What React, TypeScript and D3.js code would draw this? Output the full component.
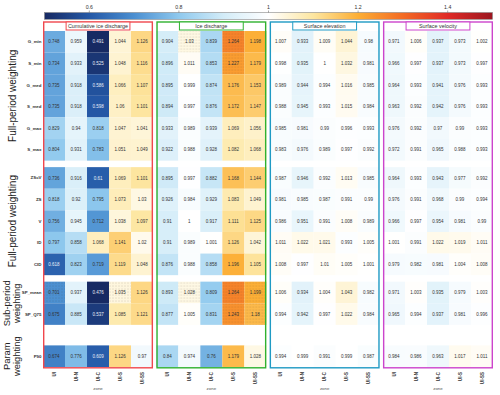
import React from 'react';
import * as d3 from 'd3';

const zones = ['UI', 'UI-N', 'UI-C', 'UI-S', 'UI-SS'];
const rowNames = ['G_min', 'S_min', 'G_med', 'S_med', 'G_max', 'S_max', 'ZScV', 'ZS', 'V', 'ID', 'CID', 'SP_mean', 'SP_Q75', 'P90'];
const rowGroup = [0, 0, 0, 0, 0, 0, 1, 1, 1, 1, 1, 2, 2, 3];
const groupLabels = [['Full-period weighting'], ['Full-period weighting'], ['Sub-period', 'weighting'], ['Param', 'weighting']];
const groupGap = [0, 0.3, 0.3, 0.95];
const panelTitles = ['Cumulative ice discharge', 'Ice discharge', 'Surface elevation', 'Surface velocity'];
const panelColors = ['#f0474d', '#2fb12f', '#1f9ac4', '#cc44cc'];
const cbTicks = [0.6, 0.8, 1, 1.2, 1.4];

const cumulativeIceDischarge = [
  [0.748, 0.959, 0.491, 1.044, 1.126],
  [0.734, 0.933, 0.525, 1.048, 1.116],
  [0.735, 0.918, 0.586, 1.066, 1.107],
  [0.735, 0.918, 0.598, 1.06, 1.101],
  [0.829, 0.94, 0.818, 1.047, 1.041],
  [0.804, 0.931, 0.783, 1.051, 1.049],
  [0.736, 0.916, 0.61, 1.069, 1.101],
  [0.818, 0.92, 0.795, 1.073, 1.03],
  [0.756, 0.945, 0.712, 1.038, 1.097],
  [0.797, 0.858, 1.068, 1.141, 1.02],
  [0.618, 0.823, 0.719, 1.119, 1.048],
  [0.701, 0.937, 0.476, 1.035, 1.126],
  [0.675, 0.885, 0.537, 1.085, 1.121],
  [0.674, 0.776, 0.609, 1.126, 0.97],
];
const iceDischarge = [
  [0.904, 1.03, 0.839, 1.264, 1.198],
  [0.896, 1.011, 0.853, 1.227, 1.179],
  [0.895, 0.999, 0.874, 1.176, 1.153],
  [0.894, 0.997, 0.876, 1.172, 1.147],
  [0.933, 0.989, 0.939, 1.069, 1.056],
  [0.922, 0.988, 0.928, 1.082, 1.068],
  [0.895, 0.997, 0.882, 1.168, 1.144],
  [0.926, 0.984, 0.929, 1.083, 1.049],
  [0.91, 1, 0.917, 1.111, 1.125],
  [0.91, 0.989, 1.001, 1.126, 1.042],
  [0.876, 0.988, 0.858, 1.196, 1.105],
  [0.893, 1.028, 0.809, 1.264, 1.199],
  [0.877, 1.005, 0.831, 1.243, 1.18],
  [0.84, 0.974, 0.76, 1.179, 1.028],
];
const surfaceElevation = [
  [1.007, 0.933, 1.009, 1.044, 0.98],
  [0.998, 0.935, 1, 1.032, 0.981],
  [0.989, 0.944, 0.994, 1.016, 0.985],
  [0.988, 0.945, 0.993, 1.015, 0.984],
  [0.985, 0.981, 0.99, 0.996, 0.993],
  [0.983, 0.976, 0.989, 0.997, 0.992],
  [0.987, 0.946, 0.992, 1.013, 0.985],
  [0.981, 0.985, 0.987, 0.991, 0.99],
  [0.986, 0.951, 0.991, 1.008, 0.989],
  [1.011, 1.022, 1.021, 0.993, 1.005],
  [1.008, 0.997, 1.01, 1.005, 1.001],
  [1.006, 0.934, 1.004, 1.043, 0.982],
  [0.994, 0.942, 0.997, 1.022, 0.984],
  [0.994, 0.999, 0.991, 0.999, 0.987],
];
const surfaceVelocity = [
  [0.971, 1.006, 0.937, 0.973, 1.002],
  [0.966, 0.997, 0.937, 0.973, 0.997],
  [0.964, 0.993, 0.941, 0.976, 0.993],
  [0.963, 0.992, 0.942, 0.976, 0.993],
  [0.976, 0.992, 0.97, 0.99, 0.993],
  [0.972, 0.991, 0.965, 0.988, 0.993],
  [0.964, 0.993, 0.943, 0.977, 0.992],
  [0.976, 0.991, 0.968, 0.99, 0.994],
  [0.966, 0.997, 0.954, 0.981, 0.99],
  [1.001, 0.991, 1.022, 1.019, 1.011],
  [0.979, 0.982, 0.981, 1.004, 1.008],
  [0.971, 1.003, 0.935, 0.979, 1.003],
  [0.965, 0.994, 0.937, 0.981, 0.996],
  [0.984, 0.986, 0.963, 1.017, 1.011],
];
const panels = [cumulativeIceDischarge, iceDischarge, surfaceElevation, surfaceVelocity];

// cells drawn with stippling [panel, row, zone]
const stippled = [
  [0, 11, 0], [0, 11, 3],
  [1, 0, 3], [1, 1, 3], [1, 0, 1], [1, 11, 1], [1, 11, 3], [1, 11, 4], [1, 12, 3], [1, 12, 4],
];

const W = 500;
const H = 395;
const FONT = '"Liberation Sans", Arial, sans-serif';

const color = d3
  .scaleLinear<string>()
  .domain([0.5, 0.6, 0.7, 0.8, 0.9, 1.0, 1.1, 1.2, 1.3, 1.4, 1.5])
  .range(['#172a63', '#2458a6', '#4b8fd1', '#8fc9ee', '#d3ecf8', '#ffffff', '#fde6a0', '#fcae35', '#f36b24', '#e02a26', '#9b1620'])
  .clamp(true);

export default function App() {
  const top = 31;
  const bottom = 367;

  // row offsets in "row units", with gaps between groups
  const rowUnits = rowNames.map((_, i) => i + d3.sum(groupGap.slice(0, rowGroup[i] + 1)));
  const totalUnits = rowUnits[rowUnits.length - 1] + 1;
  const y = d3.scaleLinear().domain([0, totalUnits]).range([top, bottom]);
  const rowH = y(1) - y(0);

  const px = d3.scaleBand<number>().domain([0, 1, 2, 3]).range([43, 493]).paddingInner(0.029);
  const cx = d3.scaleBand<string>().domain(zones).range([0, px.bandwidth()]);

  const cb = d3.scaleLinear().domain([0.5, 1.5]).range([44.5, 492.5]);
  const gradStops = d3.range(0, 1.0001, 0.02).map((t) => ({ t, c: color(0.5 + t) }));

  const groups = d3.range(4).map((g) => {
    const idx = rowGroup.map((v, i) => (v === g ? i : -1)).filter((i) => i >= 0);
    const y0 = y(rowUnits[idx[0]]);
    const y1 = y(rowUnits[idx[idx.length - 1]] + 1);
    return { g, mid: (y0 + y1) / 2 };
  });

  return (
    <svg width={W} height={H} style={{ position: 'absolute', left: 0, top: 0, background: '#fff' }} fontFamily={FONT}>
      <defs>
        <linearGradient id="cbgrad" x1="0" x2="1" y1="0" y2="0">
          {gradStops.map((s) => (
            <stop key={s.t} offset={`${s.t * 100}%`} stopColor={s.c} />
          ))}
        </linearGradient>
        <pattern id="dots" width="3" height="3" patternUnits="userSpaceOnUse">
          <circle cx="1" cy="1" r="0.45" fill="rgba(60,40,30,0.45)" />
        </pattern>
      </defs>

      {/* colorbar */}
      <rect x={cb(0.5)} y={12.5} width={cb(1.5) - cb(0.5)} height={6.8} fill="url(#cbgrad)" stroke="#888" strokeWidth={0.6} />
      {cbTicks.map((t) => (
        <g key={t} transform={`translate(${cb(t)},0)`}>
          <line y1={10.5} y2={12.5} stroke="#555" strokeWidth={0.5} />
          <text y={8.5} textAnchor="middle" fontSize={5.2} fill="#333">
            {t}
          </text>
        </g>
      ))}

      {panels.map((data, p) => {
        const x0 = px(p) as number;
        const bw = px.bandwidth();
        return (
          <g key={p} transform={`translate(${x0},0)`}>
            {data.map((row, r) =>
              row.map((v, c) => {
                const cxv = cx(zones[c]) as number;
                const cy = y(rowUnits[r]);
                const dotted = stippled.some((s) => s[0] === p && s[1] === r && s[2] === c);
                return (
                  <g key={`${r}-${c}`}>
                    <rect x={cxv} y={cy} width={cx.bandwidth()} height={rowH} fill={color(v)} />
                    {dotted && <rect x={cxv} y={cy} width={cx.bandwidth()} height={rowH} fill="url(#dots)" />}
                    <text
                      x={cxv + cx.bandwidth() / 2}
                      y={cy + rowH / 2}
                      dy="0.35em"
                      textAnchor="middle"
                      fontSize={4.5}
                      fill={v < 0.65 ? '#e8eef8' : '#333'}
                    >
                      {v}
                    </text>
                  </g>
                );
              })
            )}
            <rect x={0.7} y={22} width={bw - 1.4} height={bottom + 0.8 - 22} fill="none" stroke={panelColors[p]} strokeWidth={1.4} />
            <rect x={bw * 0.21} y={22} width={bw * 0.58} height={8} fill="#fff" stroke={panelColors[p]} strokeWidth={1} />
            <text x={bw / 2} y={26} dy="0.35em" textAnchor="middle" fontSize={5.4} fill="#333">
              {panelTitles[p]}
            </text>
            {zones.map((z) => (
              <text
                key={z}
                transform={`translate(${(cx(z) as number) + cx.bandwidth() / 2},372) rotate(-90)`}
                textAnchor="end"
                dy="0.35em"
                fontSize={4.5}
                fontWeight="bold"
                fill="#333"
              >
                {z}
              </text>
            ))}
            <text x={bw / 2} y={390} textAnchor="middle" fontSize={4.4} fill="#555">
              zone
            </text>
          </g>
        );
      })}

      {/* row labels */}
      {rowNames.map((n, i) => (
        <text key={n} x={41.5} y={y(rowUnits[i]) + rowH / 2} dy="0.35em" textAnchor="end" fontSize={4.4} fontWeight="bold" fill="#333">
          {n}
        </text>
      ))}

      {/* group labels */}
      {groups.map(({ g, mid }) => {
        const lines = groupLabels[g];
        return (
          <text key={g} transform={`translate(${lines.length === 1 ? 15.5 : 9.5},${mid}) rotate(-90)`} textAnchor="middle" fontSize={lines.length === 1 ? 10 : 9.4} fill="#222">
            {lines.map((l, k) => (
              <tspan key={k} x={0} dy={k === 0 ? 0 : 10.6}>
                {l}
              </tspan>
            ))}
          </text>
        );
      })}
    </svg>
  );
}
